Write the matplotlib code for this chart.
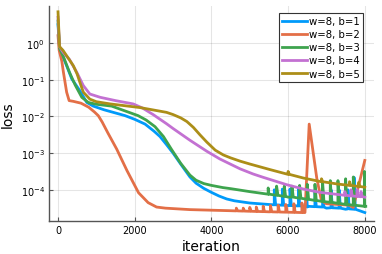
import matplotlib
matplotlib.use("Agg")
import matplotlib.pyplot as plt
import numpy as np

# ── Data (log10 of loss) ─────────────────────────────────────────
b1_it = [0, 40, 120, 225, 360, 570, 750, 920, 1200, 1750, 2000, 2270, 2500, 2660,
         2830, 3000, 3200, 3440, 3600, 3800, 4000, 4200, 4400, 4600, 5000, 5500,
         6000, 6500, 7000, 7500, 8000]
b1_lg = [0.5, -0.18, -0.35, -0.62, -0.98, -1.3, -1.62, -1.72, -1.82, -1.98, -2.08,
         -2.21, -2.4, -2.55, -2.77, -3.0, -3.3, -3.65, -3.82, -3.96, -4.07, -4.17,
         -4.25, -4.3, -4.36, -4.4, -4.43, -4.47, -4.5, -4.53, -4.62]
b1_sp_it = [5640, 5850, 6050, 6270, 6480, 6700, 6900, 7120, 7330, 7560, 7720]
b1_sp_base = [-4.41, -4.42, -4.43, -4.44, -4.45, -4.46, -4.47, -4.49, -4.5, -4.52, -4.53]
b1_sp_peak = [-4.0, -3.98, -3.98, -3.98, -3.98, -4.0, -4.0, -4.0, -4.0, -4.0, -3.66]

b2_it = [0, 30, 100, 140, 225, 290, 400, 600, 800, 950, 1050, 1150, 1300, 1530,
         1800, 2100, 2350, 2570, 2800, 3440, 4500, 5500, 6440, 6550, 6750, 6870,
         7000, 7300, 7600, 7700, 8000]
b2_lg = [0.2, -0.2, -0.5, -0.79, -1.34, -1.57, -1.59, -1.64, -1.75, -1.88, -1.98,
         -2.15, -2.45, -2.89, -3.48, -4.08, -4.35, -4.47, -4.5, -4.54, -4.57, -4.6,
         -4.62, -2.21, -3.7, -4.3, -4.38, -4.4, -4.42, -4.48, -3.2]
b2_sp_it = [4650, 4830, 5000, 5170, 5350, 5540, 5740, 5940, 6150, 6360]
b2_sp_base = [-4.575, -4.58, -4.585, -4.59, -4.595, -4.6, -4.605, -4.61, -4.615, -4.62]
b2_sp_peak = [-4.5, -4.5, -4.48, -4.47, -4.45, -4.43, -4.42, -4.4, -4.38, -4.36]

b3_it = [0, 40, 150, 300, 450, 620, 790, 1000, 1400, 2090, 2300, 2530, 2750, 2960,
         3200, 3440, 3600, 3800, 4000, 4300, 4510, 5000, 5500, 6000, 6500, 7000,
         7500, 8000]
b3_lg = [0.6, -0.15, -0.4, -0.8, -1.15, -1.48, -1.62, -1.67, -1.72, -1.98, -2.1,
         -2.28, -2.55, -2.9, -3.28, -3.6, -3.74, -3.83, -3.88, -3.94, -3.97, -4.05,
         -4.12, -4.2, -4.26, -4.33, -4.4, -4.45]
b3_sp_it = [5480, 5700, 5900, 6100, 6300, 6500, 6700, 6900, 7100, 7300, 7500, 7700, 7990]
b3_sp_base = [-4.12, -4.15, -4.18, -4.2, -4.23, -4.26, -4.29, -4.32, -4.34, -4.37,
              -4.4, -4.42, -4.45]
b3_sp_peak = [-3.95, -3.9, -3.9, -3.9, -3.88, -3.85, -3.85, -3.8, -3.75, -3.75,
              -3.7, -3.65, -3.5]

b4_it = [0, 40, 130, 300, 490, 660, 830, 1100, 1500, 1960, 2200, 2480, 2830, 3000,
         3440, 3880, 4220, 4750, 5090, 5350, 5960, 6400, 6830, 7500, 8000]
b4_lg = [0.7, -0.1, -0.25, -0.45, -0.8, -1.16, -1.39, -1.48, -1.57, -1.66, -1.77,
         -1.95, -2.2, -2.33, -2.65, -2.95, -3.16, -3.43, -3.57, -3.66, -3.86, -3.98,
         -4.07, -4.15, -4.2]
b4_sp_it = [7480, 7640, 7800, 7900]
b4_sp_base = [-4.15, -4.17, -4.18, -4.19]
b4_sp_peak = [-4.05, -4.0, -4.0, -4.05]

b5_it = [0, 40, 130, 400, 500, 570, 660, 830, 1000, 1360, 2140, 2830, 3000, 3200,
         3360, 3530, 3700, 3880, 4100, 4310, 4500, 4750, 5010, 5530, 6000, 6400,
         7270, 8000]
b5_lg = [0.85, -0.1, -0.2, -0.62, -0.85, -1.07, -1.34, -1.53, -1.6, -1.66, -1.76,
         -1.89, -1.95, -2.04, -2.14, -2.3, -2.5, -2.7, -2.92, -3.05, -3.13, -3.22,
         -3.3, -3.45, -3.58, -3.68, -3.84, -3.93]
b5_sp_it = [6000, 6870, 7600, 7840]
b5_sp_base = [-3.58, -3.78, -3.88, -3.91]
b5_sp_peak = [-3.5, -3.7, -3.78, -3.8]

labels = ["w=8, b=1", "w=8, b=2", "w=8, b=3", "w=8, b=4", "w=8, b=5"]
colors = ["#009AFA", "#E36F47", "#3EA44E", "#C371D2", "#AC8E18"]


def with_spikes(it, lg, sp_it, sp_base, sp_peak, width=35):
    pts = list(zip(it, lg))
    for s, b, p in zip(sp_it, sp_base, sp_peak):
        pts += [(s - 1, b), (s, p), (s + width, b)]
    pts.sort(key=lambda t: t[0])
    x = np.array([t[0] for t in pts], dtype=float)
    y = np.array([t[1] for t in pts], dtype=float)
    return x, 10.0 ** y


series = [
    (b1_it, b1_lg, b1_sp_it, b1_sp_base, b1_sp_peak),
    (b2_it, b2_lg, b2_sp_it, b2_sp_base, b2_sp_peak),
    (b3_it, b3_lg, b3_sp_it, b3_sp_base, b3_sp_peak),
    (b4_it, b4_lg, b4_sp_it, b4_sp_base, b4_sp_peak),
    (b5_it, b5_lg, b5_sp_it, b5_sp_base, b5_sp_peak),
]

# ── Plot ─────────────────────────────────────────────────────────
fig = plt.figure(figsize=(3.82, 2.55), dpi=100)
ax = fig.add_axes([49 / 382, 33.3 / 255, 325 / 382, 214.7 / 255])

for (it, lg, si, sb, sp), lab, col in zip(series, labels, colors):
    x, y = with_spikes(it, lg, si, sb, sp)
    ax.plot(x, y, color=col, lw=2, label=lab, solid_joinstyle="round")

ax.set_yscale("log")
ax.set_xlim(-235, 8240)
ax.set_ylim(10 ** -4.842, 10 ** 1.008)
ax.set_xticks([0, 2000, 4000, 6000, 8000])
ax.set_yticks([1e-4, 1e-3, 1e-2, 1e-1, 1e0])
ax.yaxis.set_minor_locator(matplotlib.ticker.NullLocator())

ax.grid(True, color="#000000", alpha=0.1, lw=0.8)
for side in ["top", "right"]:
    ax.spines[side].set_visible(False)
for side in ["left", "bottom"]:
    ax.spines[side].set_color("#555555")
    ax.spines[side].set_linewidth(1.0)
ax.tick_params(direction="in", length=3, width=0.8, color="#555555",
               labelsize=7, pad=3)

ax.set_xlabel("iteration", fontsize=10, labelpad=3)
ax.set_ylabel("loss", fontsize=10, labelpad=4)

leg = ax.legend(loc="upper right", bbox_to_anchor=(0.967, 0.966), borderaxespad=0,
                fontsize=7.3, fancybox=False, framealpha=1, edgecolor="#333333",
                handlelength=2.5, handletextpad=0.2, labelspacing=0.3,
                borderpad=0.3)
leg.get_frame().set_linewidth(0.8)

fig.savefig("out.png", dpi=100)
